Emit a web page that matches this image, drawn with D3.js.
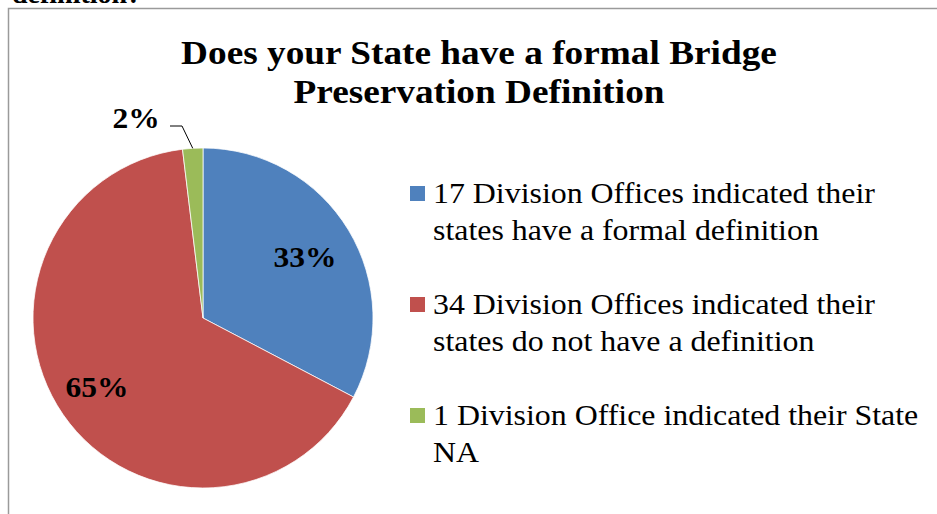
<!DOCTYPE html>
<html>
<head>
<meta charset="utf-8">
<script src="https://cdn.jsdelivr.net/npm/d3@7"></script>
<style>
  html, body { margin: 0; padding: 0; background: #fff; }
  svg { display: block; }
</style>
</head>
<body>
<svg id="chart" width="937" height="514"></svg>
<script>
const categories = [
  "17 Division Offices indicated their states have a formal definition",
  "34 Division Offices indicated their states do not have a definition",
  "1 Division Office indicated their State NA"
];
const legendLines = [
  ["17 Division Offices indicated their", "states have a formal definition"],
  ["34 Division Offices indicated their", "states do not have a definition"],
  ["1 Division Office indicated their State", "NA"]
];
const values = [17, 34, 1];
const pctLabels = ["33%", "65%", "2%"];
const colors = ["#4F81BD", "#C0504D", "#9BBB59"];
const titleLines = ["Does your State have a formal Bridge", "Preservation Definition"];

const svg = d3.select("#chart");
const serif = "'Liberation Serif', 'Times New Roman', serif";

function stext(parent, x, y, sx, txt, size, weight, anchor) {
  return parent.append("text")
    .attr("transform", `translate(${x},${y}) scale(${sx},1)`)
    .attr("text-anchor", anchor || "start")
    .attr("font-family", serif).attr("font-weight", weight || "normal")
    .attr("font-size", size).attr("fill", "#000").text(txt);
}

// cut-off text from document above
stext(svg, 12, 3, 1, "definition?", 28, "bold");

// chart border
svg.append("path").attr("d", "M8.5,520 L8.5,8.5 L945,8.5")
  .attr("fill", "none").attr("stroke", "#9a9a9a").attr("stroke-width", 1.5);

// title
titleLines.forEach((t, i) => stext(svg, 479, 64 + i * 39, 1.13, t, 33, "bold", "middle"));

// pie
const cx = 203, cy = 318, r = 170;
const pie = d3.pie().sort(null).value(d => d)(values);
const arc = d3.arc().innerRadius(0).outerRadius(r);
const g = svg.append("g").attr("transform", `translate(${cx},${cy})`);
g.selectAll("path").data(pie).join("path")
  .attr("d", arc)
  .attr("fill", (d, i) => colors[i])
  .attr("stroke", "#fff").attr("stroke-width", 0.75);

// data labels
const labelPos = [[305, 267], [97, 397], [136, 128]];
pie.forEach((d, i) => {
  stext(g, labelPos[i][0] - cx, labelPos[i][1] - cy, 1.05, pctLabels[i], 30, "bold", "middle");
});

// leader line for small slice
const mid = (pie[2].startAngle + pie[2].endAngle) / 2;
const px = r * Math.sin(mid), py = -r * Math.cos(mid);
g.append("path")
  .attr("d", `M${170 - cx},${126 - cy} L${182 - cx},${126 - cy} L${px},${py}`)
  .attr("fill", "none").attr("stroke", "#000").attr("stroke-width", 1);

// legend
const leg = svg.append("g");
legendLines.forEach((lines, i) => {
  const base = 203 + i * 111;
  leg.append("rect").attr("x", 410).attr("y", base - 17).attr("width", 15).attr("height", 15)
    .attr("fill", colors[i]);
  lines.forEach((t, j) => stext(leg, 433, base + j * 37, 1.063, t, 30));
});
</script>
</body>
</html>
